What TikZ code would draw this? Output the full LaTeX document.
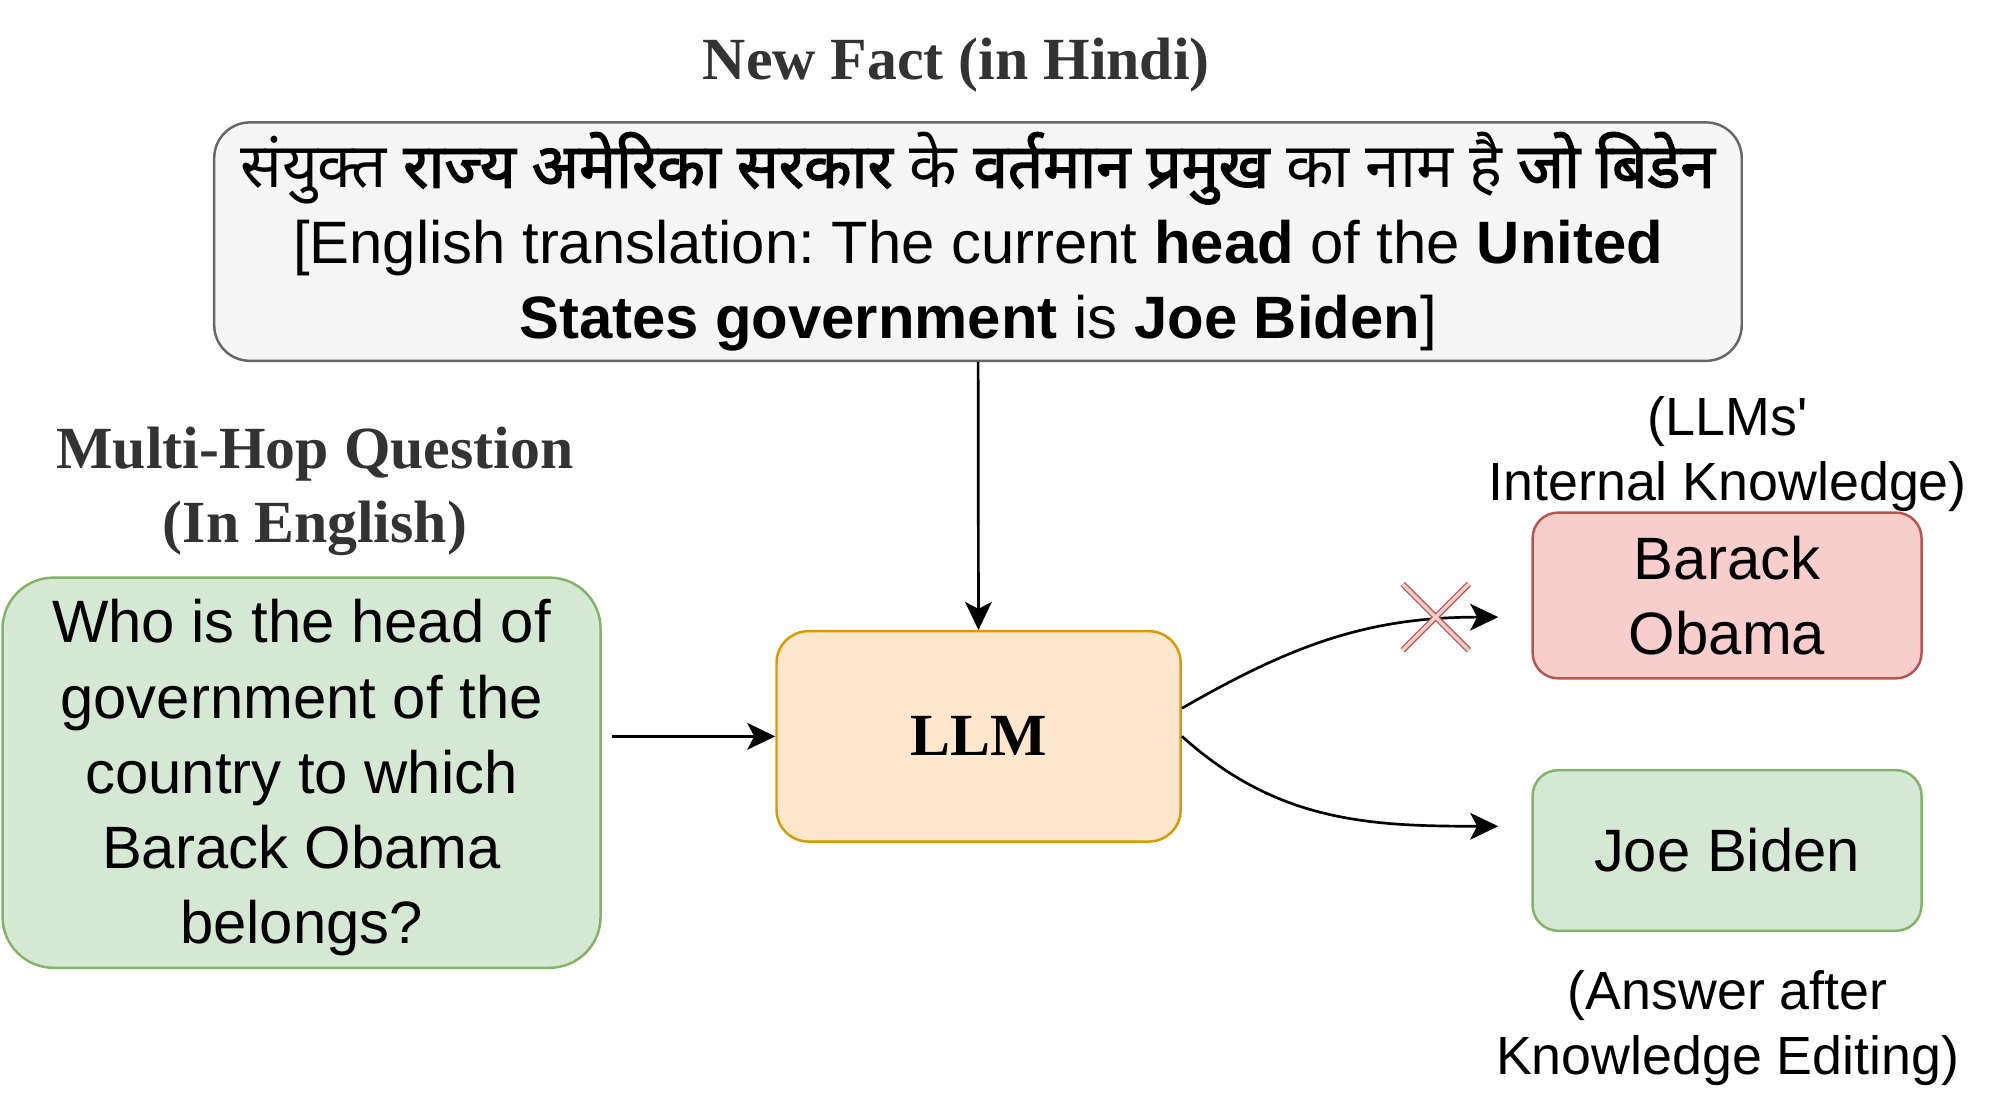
\documentclass[tikz,border=0pt]{standalone}
\usepackage{fontspec}
\setmainfont{Liberation Sans}[Ligatures=TeXOff]
\newfontfamily\headfont{Liberation Serif}
\newfontfamily\hindi[Script=Devanagari, BoldFont={Noto Sans}, BoldFeatures={FakeBold=2.2}]{Noto Sans}
\usepackage{xcolor}
\usepackage{tikz}
\usetikzlibrary{arrows.meta,calc,positioning}
\frenchspacing

\definecolor{factfill}{HTML}{F5F5F5}
\definecolor{factline}{HTML}{666666}
\definecolor{llmfill}{HTML}{FFE6CC}
\definecolor{llmline}{HTML}{D79B00}
\definecolor{qfill}{HTML}{D5E8D4}
\definecolor{qline}{HTML}{82B366}
\definecolor{oldfill}{HTML}{F8CECC}
\definecolor{oldline}{HTML}{B85450}
\definecolor{headgray}{HTML}{333333}

\tikzset{
  box/.style={draw, line width=1.1pt, inner sep=0pt, align=center,
    font=\fontsize{26.7}{33.6}\selectfont},
  head/.style={align=center, text=headgray,
    font=\headfont\bfseries\fontsize{26.7}{33}\selectfont},
  note/.style={align=center, font=\fontsize{24}{29}\selectfont},
  flow/.style={-{Stealth[length=4.4mm, width=4.2mm, inset=1.1mm]}, line width=1.2pt}
}

\begin{document}
\begin{tikzpicture}[x=0.2mm, y=-0.2mm]
  \useasboundingbox (0,0) rectangle (1567,871);

  % new fact
  \node[head] (facthead) at (750,51) {New Fact (in Hindi)};
  \node[box, fill=factfill, draw=factline, rounded corners=5.6mm,
        minimum width=239.6mm, minimum height=37.4mm] (fact) at (767,189.5)
        {{\hindi\fontsize{27.6}{33.6}\selectfont संयुक्त \textbf{राज्य अमेरिका सरकार} के \textbf{वर्तमान प्रमुख} का नाम है \textbf{जो बिडेन}}\\
         {[}English translation: The current \textbf{head} of the \textbf{United}\\
         \textbf{States government} is \textbf{Joe Biden}]};

  % question
  \node[head] (qhead) at (247,385.5) {Multi-Hop Question\\(In English)};
  \node[box, fill=qfill, draw=qline, rounded corners=8mm,
        minimum width=93.8mm, minimum height=61.2mm] (q) at (236.5,606)
        {\rule{0pt}{24pt}Who is the head of\\government of the\\country to which\\Barack Obama\\belongs?};

  % model
  \node[box, fill=llmfill, draw=llmline, rounded corners=5mm,
        minimum width=63.4mm, minimum height=33mm,
        font=\headfont\bfseries\fontsize{26.7}{33}\selectfont] (llm) at (767.5,577.5) {LLM};

  % answers
  \node[box, fill=oldfill, draw=oldline, rounded corners=4mm,
        minimum width=61mm, minimum height=26mm] (old) at (1354.5,467) {Barack\\Obama};
  \node[box, fill=qfill, draw=qline, rounded corners=4mm,
        minimum width=61mm, minimum height=25.2mm] (new) at (1354.5,667) {Joe Biden};
  \node[note] (oldnote) at (1355,356.5) {(LLMs'\\Internal Knowledge)};
  \node[note] (newnote) at (1355,806) {(Answer after\\Knowledge Editing)};

  \coordinate (qout) at (480,577.5);
  \coordinate (oldin) at (1175,484);
  \coordinate (newin) at (1175,648);
  \coordinate (llmup) at ($(llm.east)+(0,-22)$);
  \coordinate (cross) at (1126,484);

  \path[flow]
    (fact) edge (llm)
    (qout) edge (llm)
    (llmup) edge[out=30, in=180] (oldin)
    (llm.east) edge[out=-42, in=180] (newin);

  % rejected answer
  \draw[oldline, line width=0.6pt, double=oldfill, double distance=1.5pt]
    ($(cross)+(-26,-26)$) -- ($(cross)+(26,26)$)
    ($(cross)+(-26,26)$) -- ($(cross)+(26,-26)$);
\end{tikzpicture}
\end{document}
